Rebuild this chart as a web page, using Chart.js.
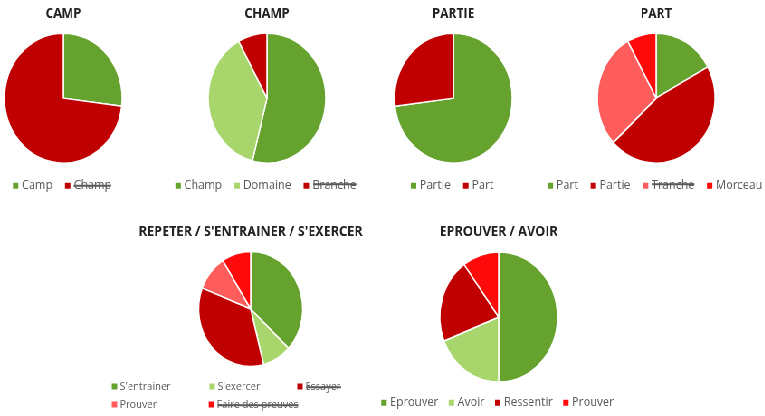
<!DOCTYPE html>
<html>
<head>
<meta charset="utf-8">
<script src="https://cdn.jsdelivr.net/npm/chart.js@4.4.0/dist/chart.umd.min.js"></script>
<style>
  html, body { margin: 0; padding: 0; background: #fff; overflow: hidden; width: 765px; height: 416px; }
  /* the source picture is squeezed horizontally, so the whole board is too */
  #board { position: absolute; left: 0; top: 0; width: 846px; height: 416px; transform: scaleX(0.905); transform-origin: 0 0; }
  #board canvas { position: absolute; }
</style>
</head>
<body>
<div id="board"></div>
<script>
'use strict';

// Data (percent of answers).
const campLabels = ['Camp', 'Champ'];
const campValues = [27, 73];
const campStruck = [false, true];

const champLabels = ['Champ', 'Domaine', 'Branche'];
const champValues = [54, 38, 8];
const champStruck = [false, false, true];

const partieLabels = ['Partie', 'Part'];
const partieValues = [73, 27];
const partieStruck = [false, false];

const partLabels = ['Part', 'Partie', 'Tranche', 'Morceau'];
const partValues = [17, 46, 29, 8];
const partStruck = [false, false, true, false];

const repeterLabels = ["S'entrainer", "S'exercer", 'Essayer', 'Prouver', 'Faire des preuves'];
const repeterValues = [37, 9, 35, 10, 9];
const repeterStruck = [false, false, true, false, true];

const eprouverLabels = ['Eprouver', 'Avoir', 'Ressentir', 'Prouver'];
const eprouverValues = [50, 19, 21, 10];
const eprouverStruck = [false, false, false, false];

// Colours.
const GREEN = '#66a22e';
const LIGHT_GREEN = '#a9d66c';
const DARK_RED = '#c00000';
const SALMON = '#ff5c5c';
const RED = '#ff0a0a';

const FAMILY = "'Open Sans'";
const measureCtx = document.createElement('canvas').getContext('2d');

// Pad a legend label with thin spaces so the next item lands on a column.
function padLabel(text, step, padding, size) {
  measureCtx.font = `${size}px ${FAMILY}`;
  const target = step - padding - 1 - size / 2;
  let out = text;
  while (measureCtx.measureText(out + '\u2009').width <= target) {
    out += '\u2009';
  }
  return out;
}

function makePie(id, title, labels, values, colors, struck, box) {
  const canvas = document.createElement('canvas');
  canvas.id = id;
  canvas.width = box.width;
  canvas.height = box.height;
  canvas.style.left = box.left + 'px';
  canvas.style.top = box.top + 'px';
  document.getElementById('board').appendChild(canvas);

  new Chart(canvas, {
    type: 'pie',
    data: {
      labels: labels,
      datasets: [{
        data: values,
        backgroundColor: colors,
        borderColor: '#ffffff',
        borderWidth: 1.5,
        radius: box.radius,
      }]
    },
    options: {
      responsive: false,
      animation: false,
      events: [],
      plugins: {
        tooltip: {enabled: false},
        title: {
          display: true,
          text: title,
          color: '#222222',
          font: {family: FAMILY, size: box.titleSize, weight: 'bold'},
          padding: {top: box.titleTop, bottom: box.titleGap},
        },
        legend: {
          position: 'bottom',
          align: box.columns ? 'start' : 'center',
          labels: {
            usePointStyle: true,
            pointStyle: 'rect',
            boxWidth: 1,
            boxHeight: 6,
            padding: box.legendPad,
            color: '#595959',
            font: {family: FAMILY, size: box.legendSize},
            generateLabels: function(chart) {
              const ds = chart.data.datasets[0];
              return chart.data.labels.map(function(label, i) {
                let text = label;
                if (box.columns && box.columns[i]) {
                  text = padLabel(label, box.columns[i], box.legendPad, box.legendSize);
                }
                return {
                  text: text,
                  fillStyle: ds.backgroundColor[i],
                  strokeStyle: ds.backgroundColor[i],
                  fontColor: '#595959',
                  lineWidth: 0,
                  pointStyle: 'rect',
                  hidden: struck[i],
                  index: i
                };
              });
            }
          }
        }
      }
    }
  });
}

const topRow = {top: 0, height: 202, radius: 65, titleSize: 13.5, titleTop: 6.1, titleGap: 10.7,
  legendSize: 12.5, legendPad: 16.25};

makePie('camp', 'CAMP', campLabels, campValues, [GREEN, DARK_RED], campStruck,
  Object.assign({}, topRow, {left: -5, width: 150}));

makePie('champ', 'CHAMP', champLabels, champValues, [GREEN, LIGHT_GREEN, DARK_RED], champStruck,
  Object.assign({}, topRow, {left: 175, width: 240}));

makePie('partie', 'PARTIE', partieLabels, partieValues, [GREEN, DARK_RED], partieStruck,
  Object.assign({}, topRow, {left: 411, width: 180}));

makePie('part', 'PART', partLabels, partValues, [GREEN, DARK_RED, SALMON, RED], partStruck,
  Object.assign({}, topRow, {left: 575, width: 300}));

makePie('repeter', "REPETER / S'ENTRAINER / S'EXERCER", repeterLabels, repeterValues,
  [GREEN, LIGHT_GREEN, DARK_RED, SALMON, RED], repeterStruck,
  {left: 119, top: 218, width: 316, height: 202, radius: 57.5, titleSize: 14, titleTop: 5.6,
   titleGap: 3.6, legendSize: 11, legendPad: 7, columns: [108.3, 98.3, 0, 108.3, 0]});

makePie('eprouver', 'EPROUVER / AVOIR', eprouverLabels, eprouverValues,
  [GREEN, LIGHT_GREEN, DARK_RED, RED], eprouverStruck,
  {left: 401, top: 218, width: 300, height: 201, radius: 65, titleSize: 14, titleTop: 5.6,
   titleGap: 11.1, legendSize: 12.5, legendPad: 14});
</script>
</body>
</html>
